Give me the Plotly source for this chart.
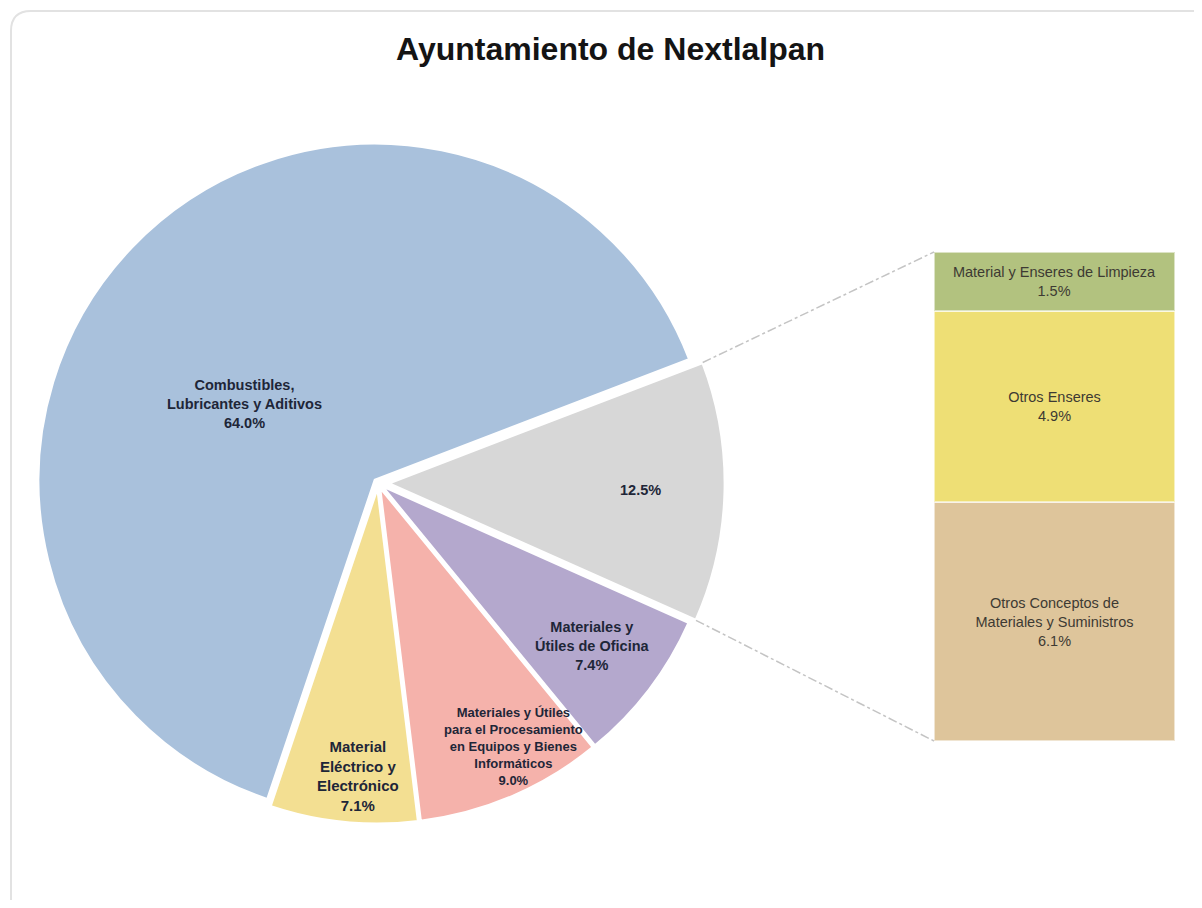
import math
import plotly.graph_objects as go

# ---------------- data ----------------
title_text = "Ayuntamiento de Nextlalpan"

pie_categories = [
    "Combustibles, Lubricantes y Aditivos",
    "Material Eléctrico y Electrónico",
    "Materiales y Útiles para el Procesamiento en Equipos y Bienes Informáticos",
    "Materiales y Útiles de Oficina",
    "Otros",
]
pie_label_lines = [
    "Combustibles,<br>Lubricantes y Aditivos",
    "Material<br>Eléctrico y<br>Electrónico",
    "Materiales y Útiles<br>para el Procesamiento<br>en Equipos y Bienes<br>Informáticos",
    "Materiales y<br>Útiles de Oficina",
    "",
]
pie_values = [64.0, 7.1, 9.0, 7.4, 12.5]
pie_colors = ["#A9C1DC", "#F3DF92", "#F5B2AB", "#B4A8CD", "#D7D7D7"]

bar_categories = [
    "Otros Conceptos de Materiales y Suministros",
    "Otros Enseres",
    "Material y Enseres de Limpieza",
]
bar_label_lines = [
    "Otros Conceptos de<br>Materiales y Suministros",
    "Otros Enseres",
    "Material y Enseres de Limpieza",
]
bar_values = [6.1, 4.9, 1.5]
bar_colors = ["#DEC59B", "#EEDF75", "#B2C27F"]

# ---------------- layout geometry (page pixels) ----------------
OFF = 8                      # default body margin of the html page
FW, FH = 1202 - 2 * OFF, 908 - 2 * OFF
cx_px, cy_px, R = 378, 483, 337
start_angle = 21             # standard angle (deg, ccw from +x) where the first slice begins
total = sum(pie_values)
first_span = pie_values[0] / total * 360
# plotly (counterclockwise): first slice covers clockwise-from-top angles [rotation, rotation + span]
rotation = (90 - start_angle) - first_span
pulls = [0.012, 0.012, 0.012, 0.012, 0.03]
max_pull = max(pulls)
half = R * (1 + max_pull)
label_frac = [0.46, 0.87, 0.88, 0.80, 0.78]
label_dangle = [13, 2, 4, 0, 0]
label_size = [14.5, 15, 13, 14.5, 14.5]


def px(x):
    return (x - OFF) / FW


def py(y):
    return 1 - (y - OFF) / FH


fig = go.Figure()

fig.add_trace(go.Pie(
    labels=pie_categories,
    values=pie_values,
    textinfo="none",
    marker=dict(colors=pie_colors, line=dict(color="white", width=3)),
    sort=False,
    direction="counterclockwise",
    rotation=rotation,
    pull=pulls,
    domain=dict(x=[px(cx_px - half), px(cx_px + half)], y=[py(cy_px + half), py(cy_px - half)]),
    showlegend=False,
    hoverinfo="label+percent",
))

for cat, lab, v, c in zip(bar_categories, bar_label_lines, bar_values, bar_colors):
    fig.add_trace(go.Bar(
        x=[0], y=[v], name=cat,
        text=[f"{lab}<br>{v:.1f}%"], texttemplate="%{text}",
        textposition="inside", insidetextanchor="middle", textangle=0,
        constraintext="none",
        textfont=dict(family="Liberation Sans, Arial", size=14.5, color="#3D3A33"),
        marker=dict(color=c, line=dict(color="rgba(255,255,255,0.55)", width=2)),
        width=1, showlegend=False, xaxis="x", yaxis="y",
    ))

bar_left, bar_right, bar_top, bar_bottom = 934, 1175, 252, 741
fig.update_layout(
    width=FW, height=FH,
    margin=dict(l=0, r=0, t=0, b=0),
    paper_bgcolor="white", plot_bgcolor="rgba(0,0,0,0)",
    barmode="stack",
    xaxis=dict(domain=[px(bar_left), px(bar_right)], range=[-0.5, 0.5], visible=False, fixedrange=True),
    yaxis=dict(domain=[py(bar_bottom), py(bar_top)], range=[0, sum(bar_values)], visible=False, fixedrange=True),
    uniformtext=dict(minsize=14, mode="show"),
)

# pie labels along each slice's mid angle
acc = start_angle
for lab, v, fr, da, fs in zip(pie_label_lines, pie_values, label_frac, label_dangle, label_size):
    span = v / total * 360
    mid = acc + span / 2 + da
    acc += span
    txt = f"<b>{lab}<br>{v:.1f}%</b>" if lab else f"<b>{v:.1f}%</b>"
    lx = cx_px + fr * R * math.cos(math.radians(mid))
    ly = cy_px - fr * R * math.sin(math.radians(mid))
    fig.add_annotation(text=txt, x=px(lx), y=py(ly), xref="paper", yref="paper",
                       showarrow=False, xanchor="center", yanchor="middle",
                       font=dict(family="Liberation Sans, Arial", size=fs, color="#1E2638"))

# title
fig.add_annotation(
    text=f"<b>{title_text}</b>", x=px(610), y=py(49), xref="paper", yref="paper",
    showarrow=False, font=dict(family="Liberation Sans, Arial", size=32, color="#141414"),
    xanchor="center", yanchor="middle",
)

# card outline
r_c = 20
card_path = (f"M {px(11)},{py(915)} L {px(11)},{py(11 + r_c)} "
             f"Q {px(11)},{py(11)} {px(11 + r_c)},{py(11)} L {px(1210)},{py(11)}")
fig.add_shape(type="path", path=card_path, xref="paper", yref="paper",
              line=dict(color="#E2E2E2", width=2))

# connector lines from the exploded slice corners to the bar
other_share = pie_values[-1] / total * 360
a_top = start_angle
a_bot = start_angle - other_share
a_mid = (a_top + a_bot) / 2
off = pulls[-1] * R
ocx = cx_px + off * math.cos(math.radians(a_mid))
ocy = cy_px - off * math.sin(math.radians(a_mid))
p_top = (ocx + R * math.cos(math.radians(a_top)), ocy - R * math.sin(math.radians(a_top)))
p_bot = (ocx + R * math.cos(math.radians(a_bot)), ocy - R * math.sin(math.radians(a_bot)))
for (x0, y0), (x1, y1) in [(p_top, (bar_left, bar_top)), (p_bot, (bar_left, bar_bottom))]:
    fig.add_shape(type="line", xref="paper", yref="paper",
                  x0=px(x0), y0=py(y0), x1=px(x1), y1=py(y1),
                  line=dict(color="#C4C4C4", width=1.5, dash="dashdot"))

fig.write_html("out.html")
